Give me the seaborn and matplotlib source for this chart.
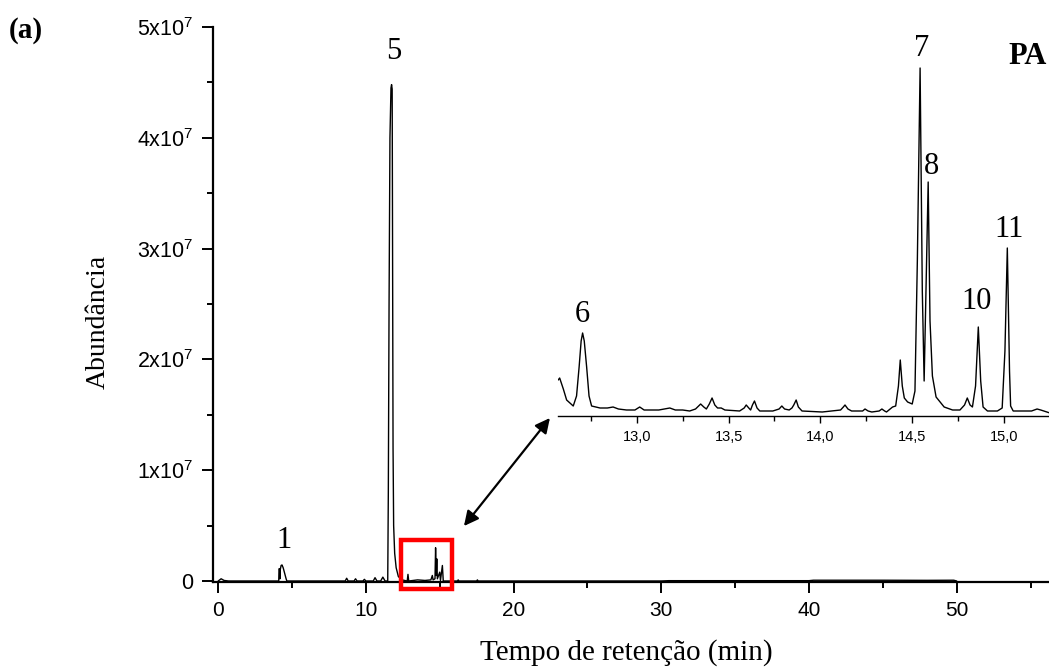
import matplotlib
matplotlib.use("Agg")
import matplotlib.pyplot as plt
import seaborn as sns
from matplotlib.ticker import MultipleLocator, FuncFormatter
from matplotlib.patches import Rectangle

# ---------------- data ----------------
# main chromatogram: retention time (min) and abundance
main_time = [0.0, 0.2, 0.4, 0.7, 4.10, 4.12, 4.16, 4.18, 4.20, 4.26, 4.32, 4.40, 4.50, 4.60, 4.65,
             8.6, 8.7, 8.8, 9.2, 9.3, 9.4, 9.8, 9.9, 10.0, 10.5, 10.62, 10.75, 11.0, 11.15, 11.3,
             11.48, 11.52, 11.57, 11.63, 11.70, 11.74, 11.78, 11.80, 11.84, 11.88, 11.95, 12.05,
             12.2, 12.45, 12.8, 12.85, 12.9, 13.5, 14.0, 14.4, 14.5, 14.55, 14.68, 14.72, 14.76,
             14.80, 14.84, 15.0, 15.05, 15.18, 15.24, 16.2, 16.25, 16.3, 17.5, 17.55, 17.6,
             30.0, 30.5, 40.0, 40.3, 45.0, 48.0, 49.8, 50.0]
main_abund = [0, 0.02e7, 0.005e7, 0, 0, 0.11e7, 0.11e7, 0.02e7, 0.10e7, 0.14e7, 0.145e7, 0.12e7,
              0.07e7, 0.02e7, 0,
              0, 0.025e7, 0, 0, 0.02e7, 0, 0, 0.015e7, 0, 0, 0.03e7, 0, 0, 0.035e7, 0,
              0, 0.8e7, 2.5e7, 4.0e7, 4.45e7, 4.48e7, 4.44e7, 3.4e7, 1.2e7, 0.5e7, 0.25e7, 0.12e7,
              0.04e7, 0.01e7, 0, 0.06e7, 0, 0.01e7, 0.005e7, 0.01e7, 0.05e7, 0.01e7, 0.02e7, 0.30e7,
              0.05e7, 0.20e7, 0.02e7, 0.08e7, 0.005e7, 0.14e7, 0, 0, 0.01e7, 0, 0, 0.01e7, 0,
              0, 0.003e7, 0.003e7, 0.007e7, 0.007e7, 0.006e7, 0.007e7, 0]

# inset (zoom of 12.6 - 15.2 min), abundance in 1e6
inset_time = [12.572, 12.58, 12.60, 12.618, 12.654, 12.672, 12.686, 12.697, 12.705, 12.714, 12.727,
              12.74, 12.754, 12.80, 12.84, 12.871, 12.90, 12.944, 12.99, 13.016, 13.04, 13.07,
              13.12, 13.15, 13.18, 13.21, 13.25, 13.288, 13.32, 13.348, 13.365, 13.379, 13.395,
              13.41, 13.425, 13.44, 13.46, 13.48, 13.56, 13.585, 13.596, 13.61, 13.62, 13.63,
              13.641, 13.655, 13.67, 13.741, 13.775, 13.79, 13.805, 13.83, 13.845, 13.855, 13.868,
              13.88, 13.90, 14.01, 14.11, 14.125, 14.134, 14.15, 14.17, 14.23, 14.243, 14.26,
              14.28, 14.32, 14.335, 14.35, 14.36, 14.393, 14.41, 14.425, 14.435, 14.446, 14.457,
              14.475, 14.50, 14.515, 14.528, 14.543, 14.555, 14.565, 14.575, 14.587, 14.597,
              14.61, 14.63, 14.674, 14.72, 14.76, 14.785, 14.80, 14.815, 14.828, 14.845, 14.86,
              14.873, 14.886, 14.91, 14.964, 14.99, 15.005, 15.018, 15.03, 15.036, 15.05, 15.15,
              15.18, 15.20, 15.25]
inset_abund = [0.31, 0.33, 0.22, 0.11, 0.05, 0.15, 0.44, 0.70, 0.78, 0.70, 0.44,
               0.15, 0.05, 0.03, 0.03, 0.04, 0.02, 0.01, 0.01, 0.04, 0.01, 0.01,
               0.01, 0.02, 0.03, 0.01, 0.01, 0.00, 0.02, 0.07, 0.04, 0.02, 0.07,
               0.13, 0.06, 0.03, 0.03, 0.01, 0.00, 0.03, 0.06, 0.03, 0.01, 0.06,
               0.10, 0.03, 0.00, 0.00, 0.02, 0.05, 0.02, 0.01, 0.03, 0.06, 0.11,
               0.04, 0.00, -0.01, 0.01, 0.04, 0.06, 0.02, 0.00, 0.00, 0.02, 0.00,
               -0.01, 0.00, 0.02, 0.00, -0.01, 0.04, 0.05, 0.25, 0.51, 0.25, 0.13,
               0.09, 0.07, 0.20, 1.50, 3.43, 1.20, 0.30, 1.20, 2.29, 0.90,
               0.35, 0.14, 0.04, 0.01, 0.01, 0.06, 0.13, 0.06, 0.04, 0.25, 0.84,
               0.30, 0.04, 0.00, 0.00, 0.03, 0.60, 1.63, 0.40, 0.05, 0.00, 0.00,
               0.02, 0.01, -0.02]

main_peak_labels = ["1", "5"]
main_peak_pos = [(4.45, 0.37e7), (11.9, 4.78e7)]
inset_peak_labels = ["6", "7", "8", "10", "11"]
inset_peak_pos = [(12.701, 0.96), (14.549, 3.63), (14.603, 2.44), (14.848, 1.09), (15.027, 1.81)]
inset_ticks = [13.0, 13.5, 14.0, 14.5, 15.0]
inset_tick_labels = ["13,0", "13,5", "14,0", "14,5", "15,0"]

# ---------------- style ----------------
sns.set_theme(style="ticks")
plt.rcParams["font.family"] = ["Liberation Sans", "DejaVu Sans"]
plt.rcParams["mathtext.fontset"] = "custom"
plt.rcParams["mathtext.rm"] = "Liberation Sans"
plt.rcParams["mathtext.it"] = "Liberation Sans:italic"
plt.rcParams["mathtext.bf"] = "Liberation Sans:bold"
serif = ["Liberation Serif", "DejaVu Serif"]

W, H = 1049, 669
fig = plt.figure(figsize=(W / 100, H / 100), dpi=100)
fig.patch.set_facecolor("white")

# ---------------- main axes ----------------
ax = fig.add_axes([213 / W, 1 - 582 / H, 836 / W, 555 / H])
ax.set_facecolor("white")
sns.lineplot(x=main_time, y=main_abund, ax=ax, color="black", linewidth=1.0,
             estimator=None, sort=False)
ax.set_xlim(-0.35, 56.25)
ax.set_ylim(-0.009e7, 5e7)
sns.despine(ax=ax)
for s in ["left", "bottom"]:
    ax.spines[s].set_linewidth(1.6)
    ax.spines[s].set_color("black")

ax.xaxis.set_major_locator(MultipleLocator(10))
ax.xaxis.set_minor_locator(MultipleLocator(5))
ax.yaxis.set_major_locator(MultipleLocator(1e7))
ax.yaxis.set_minor_locator(MultipleLocator(0.5e7))
ax.yaxis.set_major_formatter(FuncFormatter(
    lambda v, p: "0" if abs(v) < 1 else f"{v / 1e7:.0f}x10$^{{7}}$"))
ax.tick_params(axis="both", which="major", direction="out", length=8, width=1.4, color="black")
ax.tick_params(axis="both", which="minor", direction="out", length=4, width=1.4, color="black")
ax.tick_params(axis="x", which="major", labelsize=15, pad=6, labelcolor="black")
ax.tick_params(axis="y", which="major", labelsize=15.5, pad=6, labelcolor="black")

ax.set_xlabel("Tempo de retenção (min)", family=serif, fontsize=21, color="black", va="center")
ax.xaxis.set_label_coords((626 - 213) / 836, (582 - 653) / 555)
ax.set_ylabel("Abundância", family=serif, fontsize=20, color="black", va="center")
ax.yaxis.set_label_coords((98 - 213) / 836, (582 - 322) / 555)

for lab, (x, y) in zip(main_peak_labels, main_peak_pos):
    ax.text(x, y, lab, family=serif, fontsize=22, ha="center", va="center", color="black")

# red zoom box
ax.add_patch(Rectangle((12.41, -0.0695e7), 15.81 - 12.41, 0.3745e7 + 0.0695e7,
                       fill=False, edgecolor="#ff0000", linewidth=3.2, clip_on=False, zorder=5))

# double headed arrow
ax.annotate("", xy=(16.64, 0.496e7), xytext=(22.46, 1.471e7),
            arrowprops=dict(arrowstyle="<|-|>", color="black", lw=1.6, mutation_scale=22,
                            shrinkA=0, shrinkB=0))

# ---------------- inset axes ----------------
axi = fig.add_axes([558 / W, 1 - 416 / H, 491 / W, 356 / H])
axi.set_facecolor("none")
sns.lineplot(x=inset_time, y=inset_abund, ax=axi, color="black", linewidth=1.0,
             estimator=None, sort=False)
axi.set_xlim(12.571, 15.245)
axi.set_ylim(-0.05, 3.51)
for s in ["top", "right", "left"]:
    axi.spines[s].set_visible(False)
axi.spines["bottom"].set_linewidth(1.0)
axi.spines["bottom"].set_color("black")
axi.set_yticks([])
axi.set_xticks(inset_ticks)
axi.set_xticklabels(inset_tick_labels)
axi.xaxis.set_minor_locator(MultipleLocator(0.25))
axi.tick_params(axis="x", which="major", direction="out", length=5, width=1.0,
                labelsize=10.5, pad=5, color="black", labelcolor="black")
axi.tick_params(axis="x", which="minor", direction="out", length=3.5, width=1.0, color="black")
axi.set_xlabel("")
axi.set_ylabel("")

for lab, (x, y) in zip(inset_peak_labels, inset_peak_pos):
    axi.text(x, y, lab, family=serif, fontsize=22, ha="center", va="center", color="black")

fig.text(1028 / W, 1 - 57 / H, "PA", family=serif, fontsize=22, fontweight="bold",
         ha="center", va="center", color="black")
fig.text(26 / W, 1 - 31 / H, "(a)", family=serif, fontsize=21, fontweight="bold",
         ha="center", va="center", color="black")

fig.savefig("out.png", dpi=100, facecolor="white")
